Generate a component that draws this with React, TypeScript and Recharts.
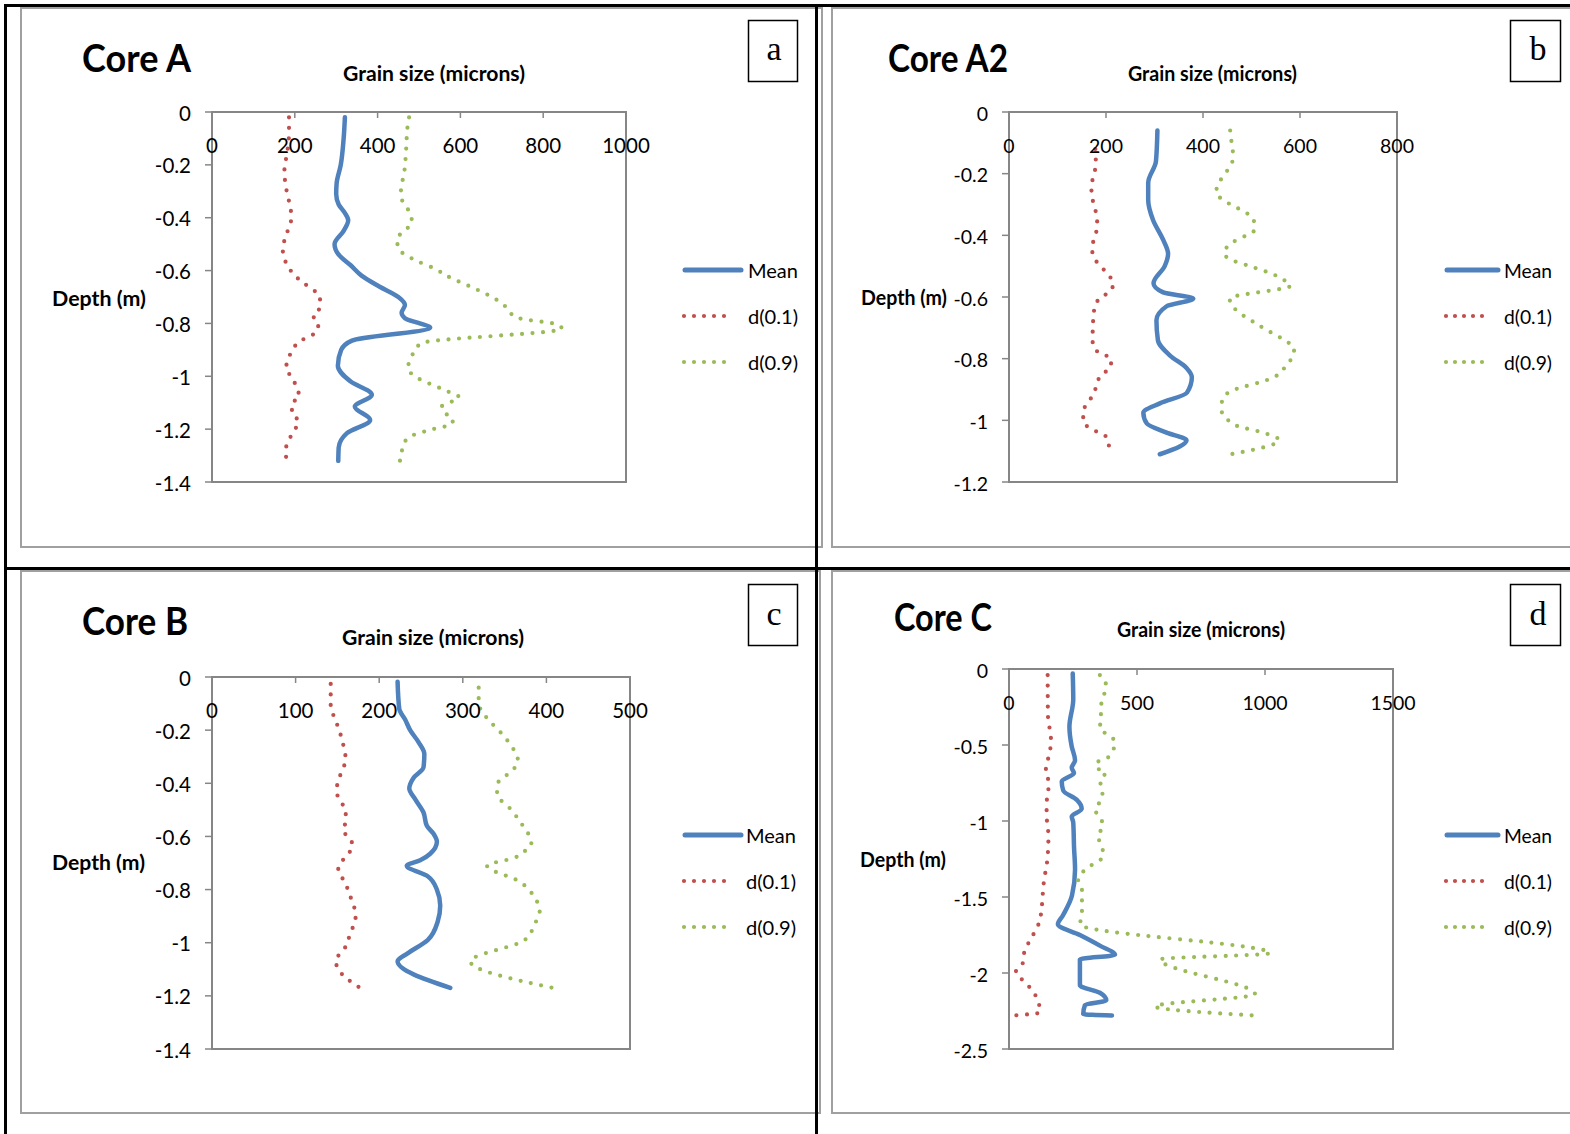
import React from 'react';
import { ScatterChart, Scatter, XAxis, YAxis, ReferenceArea } from 'recharts';

// ---------- palette & fonts ----------
const SANS = 'Lato, "Open Sans", sans-serif';
const SERIF = '"Liberation Serif", "DejaVu Serif", serif';
const AXIS_GREY = '#868686';
const FRAME_GREY = '#a0a0a0';
const MEAN_BLUE = '#4f81bd';
const D10_RED = '#c0504d';
const D90_GREEN = '#9bbb59';

// ---------- data: [depth (m), grain size (microns)] ----------
const coreAMean: [number, number][] = [
  [-0.02, 321], [-0.1, 318], [-0.2, 311], [-0.27, 301], [-0.31, 300], [-0.35, 306], [-0.38, 320],
  [-0.41, 329], [-0.45, 318], [-0.5, 296], [-0.54, 306], [-0.58, 335], [-0.62, 362], [-0.66, 404],
  [-0.7, 450], [-0.73, 466], [-0.76, 458], [-0.78, 466], [-0.8, 502], [-0.815, 527], [-0.865, 338],
  [-0.9, 312], [-0.96, 304], [-1.02, 335], [-1.07, 386], [-1.115, 345], [-1.165, 382], [-1.215, 326],
  [-1.27, 306], [-1.32, 305],
];
const coreAD10: [number, number][] = [
  [-0.02, 186], [-0.08, 186], [-0.15, 182], [-0.22, 175], [-0.28, 178], [-0.33, 185], [-0.4, 192],
  [-0.44, 185], [-0.48, 176], [-0.52, 171], [-0.56, 176], [-0.6, 190], [-0.64, 215], [-0.68, 250],
  [-0.7, 261], [-0.74, 261], [-0.77, 244], [-0.8, 257], [-0.83, 253], [-0.87, 210], [-0.9, 194],
  [-0.94, 184], [-0.97, 178], [-1.0, 191], [-1.04, 204], [-1.08, 211], [-1.1, 194], [-1.14, 193],
  [-1.17, 209], [-1.205, 199], [-1.24, 186], [-1.28, 178], [-1.32, 180],
];
const coreAD90: [number, number][] = [
  [-0.02, 476], [-0.06, 472], [-0.14, 469], [-0.23, 464], [-0.27, 459], [-0.31, 456], [-0.35, 464],
  [-0.38, 478], [-0.42, 483], [-0.45, 464], [-0.48, 447], [-0.515, 450], [-0.56, 490], [-0.59, 534],
  [-0.63, 580], [-0.66, 623], [-0.69, 664], [-0.73, 705], [-0.76, 720], [-0.78, 741], [-0.805, 836],
  [-0.82, 845], [-0.875, 505], [-0.93, 481], [-0.97, 473], [-1.0, 490], [-1.05, 558], [-1.08, 597],
  [-1.115, 555], [-1.14, 563], [-1.16, 582], [-1.18, 580], [-1.2, 534], [-1.22, 490], [-1.24, 469],
  [-1.28, 459], [-1.32, 454],
];

const coreA2Mean: [number, number][] = [
  [-0.06, 306], [-0.16, 303], [-0.23, 287], [-0.285, 287], [-0.35, 297], [-0.415, 318], [-0.46, 328],
  [-0.5, 321], [-0.555, 298], [-0.585, 318], [-0.605, 380], [-0.63, 325], [-0.675, 304], [-0.74, 307],
  [-0.79, 332], [-0.83, 366], [-0.86, 377], [-0.91, 367], [-0.945, 311], [-0.975, 277], [-1.01, 284],
  [-1.04, 325], [-1.065, 366], [-1.085, 352], [-1.11, 311],
];
const coreA2D10: [number, number][] = [
  [-0.12, 178], [-0.16, 179], [-0.2, 176], [-0.23, 171], [-0.265, 170], [-0.3, 175], [-0.34, 181],
  [-0.37, 182], [-0.405, 177], [-0.44, 171], [-0.475, 176], [-0.5, 189], [-0.525, 203], [-0.555, 215],
  [-0.585, 207], [-0.6, 189], [-0.63, 178], [-0.66, 174], [-0.7, 173], [-0.735, 172], [-0.77, 177],
  [-0.785, 193], [-0.8, 211], [-0.83, 209], [-0.85, 192], [-0.88, 181], [-0.91, 176], [-0.94, 164],
  [-0.97, 153], [-1.005, 153], [-1.025, 167], [-1.04, 185], [-1.055, 202], [-1.08, 206], [-1.11, 196],
];
const coreA2D90: [number, number][] = [
  [-0.06, 456], [-0.1, 459], [-0.14, 462], [-0.17, 459], [-0.2, 445], [-0.23, 433], [-0.26, 427],
  [-0.285, 441], [-0.3, 457], [-0.33, 492], [-0.35, 505], [-0.385, 505], [-0.4, 489], [-0.43, 454],
  [-0.46, 444], [-0.48, 459], [-0.5, 497], [-0.53, 550], [-0.545, 567], [-0.563, 581], [-0.605, 455],
  [-0.645, 470], [-0.68, 503], [-0.713, 538], [-0.743, 571], [-0.765, 588], [-0.795, 585], [-0.82, 571],
  [-0.848, 559], [-0.863, 542], [-0.91, 452], [-0.94, 439], [-0.975, 439], [-1.0, 452], [-1.018, 470],
  [-1.04, 524], [-1.064, 557], [-1.113, 447],
];

const coreBMean: [number, number][] = [
  [-0.018, 222], [-0.12, 224], [-0.16, 231], [-0.2, 237], [-0.245, 247], [-0.29, 254], [-0.34, 253],
  [-0.38, 241], [-0.42, 236], [-0.46, 243], [-0.51, 253], [-0.56, 257], [-0.59, 265], [-0.62, 269],
  [-0.665, 261], [-0.69, 249], [-0.71, 233], [-0.75, 258], [-0.8, 269], [-0.86, 273], [-0.92, 270],
  [-0.99, 258], [-1.04, 234], [-1.07, 222], [-1.17, 285],
];
const coreBD10: [number, number][] = [
  [-0.026, 142], [-0.07, 142], [-0.11, 142], [-0.15, 146], [-0.19, 151], [-0.23, 155], [-0.27, 158],
  [-0.31, 160], [-0.35, 156], [-0.39, 151], [-0.43, 149], [-0.47, 154], [-0.5, 160], [-0.54, 160],
  [-0.58, 157], [-0.61, 166], [-0.64, 168], [-0.675, 160], [-0.72, 151], [-0.78, 160], [-0.84, 167],
  [-0.895, 172], [-0.97, 165], [-1.03, 157], [-1.065, 148], [-1.1, 151], [-1.17, 177],
];
const coreBD90: [number, number][] = [
  [-0.04, 319], [-0.08, 319], [-0.12, 321], [-0.155, 329], [-0.215, 347], [-0.28, 362], [-0.315, 366],
  [-0.35, 360], [-0.4, 342], [-0.44, 341], [-0.5, 358], [-0.565, 373], [-0.6, 380], [-0.63, 382],
  [-0.66, 372], [-0.68, 362], [-0.71, 329], [-0.77, 368], [-0.83, 386], [-0.88, 392], [-0.93, 386],
  [-0.99, 374], [-1.07, 309], [-1.17, 408],
];

const coreCMean: [number, number][] = [
  [-0.03, 249], [-0.2, 251], [-0.38, 236], [-0.51, 245], [-0.6, 258], [-0.65, 245], [-0.685, 254],
  [-0.74, 206], [-0.8, 212], [-0.86, 264], [-0.92, 284], [-0.97, 245], [-1.01, 251], [-1.17, 254],
  [-1.32, 258], [-1.49, 246], [-1.62, 211], [-1.68, 191], [-1.75, 277], [-1.82, 355], [-1.88, 414],
  [-1.91, 277], [-2.08, 277], [-2.13, 355], [-2.18, 380], [-2.21, 297], [-2.27, 290], [-2.28, 402],
];
const coreCD10: [number, number][] = [
  [-0.04, 151], [-0.3, 152], [-0.47, 164], [-0.54, 160], [-0.61, 150], [-0.68, 143], [-0.745, 156],
  [-0.89, 147], [-0.96, 147], [-1.1, 154], [-1.25, 150], [-1.39, 137], [-1.65, 121], [-1.75, 94],
  [-1.85, 62], [-1.95, 51], [-1.99, 27], [-2.08, 74], [-2.18, 113], [-2.26, 121], [-2.28, 12],
];
const coreCD90: [number, number][] = [
  [-0.04, 355], [-0.094, 378], [-0.15, 375], [-0.2, 362], [-0.335, 358], [-0.395, 355], [-0.434, 388],
  [-0.478, 414], [-0.544, 404], [-0.594, 375], [-0.616, 340], [-0.653, 345], [-0.68, 378], [-0.735, 355],
  [-0.796, 366], [-0.866, 358], [-0.928, 336], [-0.98, 359], [-1.04, 366], [-1.097, 346], [-1.16, 362],
  [-1.23, 368], [-1.32, 297], [-1.39, 270], [-1.45, 285], [-1.62, 285], [-1.68, 277], [-1.87, 1020],
  [-1.91, 590], [-2.14, 961], [-2.22, 570], [-2.28, 961],
];

// ---------- axis ticks ----------
const grainTicksA = [0, 200, 400, 600, 800, 1000];
const grainTicksA2 = [0, 200, 400, 600, 800];
const grainTicksB = [0, 100, 200, 300, 400, 500];
const grainTicksC = [0, 500, 1000, 1500];
const depthTicks14 = [0, -0.2, -0.4, -0.6, -0.8, -1, -1.2, -1.4];
const depthTicks12 = [0, -0.2, -0.4, -0.6, -0.8, -1, -1.2];
const depthTicks25 = [0, -0.5, -1, -1.5, -2, -2.5];

const seriesNames = ['Mean', 'd(0.1)', 'd(0.9)'];

type Rect = { left: number; top: number; width: number; height: number };
type Plot = { left: number; top: number; right: number; bottom: number };
type Panel = {
  key: string;
  title: string;
  letter: string;
  box: Rect;
  plot: Plot;
  xMax: number;
  yMin: number;
  xTicks: number[];
  yTicks: number[];
  series: [number, number][][];
  tickFont: number;
  titleText: { x: number; y: number; w: number };
  grainText: { x: number; y: number; w: number };
  depthText: { x: number; y: number; w: number };
  letterBox: { x: number; y: number; w: number; h: number; tx: number; ty: number };
  legend: { lineX: number; lineEnd: number; textX: number; textW: number; rows: number[] };
};

const panels: Panel[] = [
  {
    key: 'A', title: 'Core A', letter: 'a',
    box: { left: 20, top: 7, width: 803, height: 541 },
    plot: { left: 212, top: 112, right: 626, bottom: 482 },
    xMax: 1000, yMin: -1.4, xTicks: grainTicksA, yTicks: depthTicks14,
    series: [coreAMean, coreAD10, coreAD90], tickFont: 20.5,
    titleText: { x: 82, y: 72, w: 109 },
    grainText: { x: 343, y: 81, w: 182 },
    depthText: { x: 52, y: 306, w: 94 },
    letterBox: { x: 748.5, y: 20.5, w: 49, h: 61, tx: 774, ty: 60 },
    legend: { lineX: 685, lineEnd: 741, textX: 748, textW: 50, rows: [270, 316, 362] },
  },
  {
    key: 'A2', title: 'Core A2', letter: 'b',
    box: { left: 831, top: 7, width: 739, height: 541 },
    plot: { left: 1009, top: 112, right: 1397, bottom: 482 },
    xMax: 800, yMin: -1.2, xTicks: grainTicksA2, yTicks: depthTicks12,
    series: [coreA2Mean, coreA2D10, coreA2D90], tickFont: 19.5,
    titleText: { x: 888, y: 72, w: 120 },
    grainText: { x: 1128, y: 81, w: 169 },
    depthText: { x: 861, y: 305, w: 86 },
    letterBox: { x: 1510.5, y: 20.5, w: 50, h: 61, tx: 1538, ty: 60 },
    legend: { lineX: 1447, lineEnd: 1498, textX: 1504, textW: 48, rows: [270, 316, 362] },
  },
  {
    key: 'B', title: 'Core B', letter: 'c',
    box: { left: 20, top: 570, width: 801, height: 544 },
    plot: { left: 212, top: 677, right: 630, bottom: 1049 },
    xMax: 500, yMin: -1.4, xTicks: grainTicksB, yTicks: depthTicks14,
    series: [coreBMean, coreBD10, coreBD90], tickFont: 20.5,
    titleText: { x: 82, y: 635, w: 106 },
    grainText: { x: 342, y: 645, w: 182 },
    depthText: { x: 52, y: 870, w: 93 },
    letterBox: { x: 748.5, y: 584.5, w: 49, h: 61, tx: 774, ty: 625 },
    legend: { lineX: 685, lineEnd: 741, textX: 746, textW: 50, rows: [835, 881, 927] },
  },
  {
    key: 'C', title: 'Core C', letter: 'd',
    box: { left: 831, top: 570, width: 739, height: 544 },
    plot: { left: 1009, top: 669, right: 1393, bottom: 1049 },
    xMax: 1500, yMin: -2.5, xTicks: grainTicksC, yTicks: depthTicks25,
    series: [coreCMean, coreCD10, coreCD90], tickFont: 19.5,
    titleText: { x: 894, y: 631, w: 98 },
    grainText: { x: 1117, y: 637, w: 168 },
    depthText: { x: 860, y: 867, w: 86 },
    letterBox: { x: 1510.5, y: 584.5, w: 50, h: 61, tx: 1538, ty: 625 },
    legend: { lineX: 1447, lineEnd: 1498, textX: 1504, textW: 48, rows: [835, 881, 927] },
  },
];

// ---------- series styling ----------
const seriesStyle = [
  { color: MEAN_BLUE, strokeWidth: 4.5, dash: undefined as string | undefined },
  { color: D10_RED, strokeWidth: 4.2, dash: '0 10.5' },
  { color: D90_GREEN, strokeWidth: 4.2, dash: '0 10.5' },
];

const NoMarker = () => <g />;

// Grain-size ticks sit on the top axis: short marks pointing into the plot, labels below them.
const GrainTick = (props: any) => {
  const { x, payload, plotTop, fontSize } = props;
  return (
    <g>
      <line x1={x} x2={x} y1={plotTop} y2={plotTop + 6} stroke={AXIS_GREY} strokeWidth={1.5} />
      <text x={x} y={plotTop + 41} textAnchor="middle" fontFamily={SANS} fontSize={fontSize} fill="#000">
        {payload.value}
      </text>
    </g>
  );
};

const DepthTick = (props: any) => {
  const { x, y, payload, fontSize } = props;
  return (
    <text x={x} y={y + 8.5} textAnchor="end" fontFamily={SANS} fontSize={fontSize} fill="#000">
      {payload.value}
    </text>
  );
};

function CoreChart({ p }: { p: Panel }) {
  // axes take 1px each (a zero-size axis is not drawn), so the margins give back that pixel
  const margin = {
    top: p.plot.top - p.box.top - 1,
    left: p.plot.left - p.box.left - 1,
    right: p.box.left + p.box.width - p.plot.right,
    bottom: p.box.top + p.box.height - p.plot.bottom,
  };
  const plotTop = p.plot.top - p.box.top;
  return (
    <div style={{ position: 'absolute', left: p.box.left, top: p.box.top }}>
      <ScatterChart width={p.box.width} height={p.box.height} margin={margin}>
        <XAxis
          type="number"
          dataKey="size"
          orientation="top"
          domain={[0, p.xMax]}
          ticks={p.xTicks}
          interval={0}
          height={1}
          axisLine={{ stroke: AXIS_GREY, strokeWidth: 2 }}
          tickLine={false}
          tick={<GrainTick plotTop={plotTop} fontSize={p.tickFont} />}
        />
        <YAxis
          type="number"
          dataKey="depth"
          domain={[p.yMin, 0]}
          ticks={p.yTicks}
          interval={0}
          width={1}
          tickSize={7}
          tickMargin={14}
          axisLine={{ stroke: AXIS_GREY, strokeWidth: 2 }}
          tickLine={{ stroke: AXIS_GREY, strokeWidth: 1.5 }}
          tick={<DepthTick fontSize={p.tickFont} />}
        />
        <ReferenceArea x1={0} x2={p.xMax} y1={p.yMin} y2={0} fill="none" stroke={AXIS_GREY} strokeWidth={2} />
        {p.series.map((pts, i) => (
          <Scatter
            key={seriesNames[i]}
            name={seriesNames[i]}
            data={pts.map(([depth, size]) => ({ depth, size }))}
            fill={seriesStyle[i].color}
            shape={NoMarker}
            line={{
              stroke: seriesStyle[i].color,
              strokeWidth: seriesStyle[i].strokeWidth,
              strokeDasharray: seriesStyle[i].dash,
              strokeLinecap: 'round',
              strokeLinejoin: 'round',
            }}
            lineType="joint"
            lineJointType="monotoneY"
            isAnimationActive={false}
          />
        ))}
      </ScatterChart>
    </div>
  );
}

function PanelDecor({ p }: { p: Panel }) {
  const lb = p.letterBox;
  const lg = p.legend;
  return (
    <g>
      <text x={p.titleText.x} y={p.titleText.y} fontFamily={SANS} fontWeight={700} fontSize={39}
        textLength={p.titleText.w} lengthAdjust="spacingAndGlyphs" fill="#000">{p.title}</text>
      <text x={p.grainText.x} y={p.grainText.y} fontFamily={SANS} fontWeight={700} fontSize={21}
        textLength={p.grainText.w} lengthAdjust="spacingAndGlyphs" fill="#000">Grain size (microns)</text>
      <text x={p.depthText.x} y={p.depthText.y} fontFamily={SANS} fontWeight={700} fontSize={20}
        textLength={p.depthText.w} lengthAdjust="spacingAndGlyphs" fill="#000">Depth (m)</text>
      <rect x={lb.x} y={lb.y} width={lb.w} height={lb.h} fill="#fff" stroke="#000" strokeWidth={1.5} />
      <text x={lb.tx} y={lb.ty} textAnchor="middle" fontFamily={SERIF} fontSize={34} fill="#000">{p.letter}</text>
      {seriesNames.map((name, i) => (
        <g key={name}>
          {i === 0 ? (
            <line x1={lg.lineX} x2={lg.lineEnd} y1={lg.rows[i]} y2={lg.rows[i]} stroke={seriesStyle[i].color}
              strokeWidth={5} strokeLinecap="round" />
          ) : (
            <line x1={lg.lineX - 1} x2={lg.lineEnd - 7} y1={lg.rows[i]} y2={lg.rows[i]} stroke={seriesStyle[i].color}
              strokeWidth={4.2} strokeLinecap="round" strokeDasharray={`0 ${(lg.lineEnd - 7 - lg.lineX + 1) / 5}`} />
          )}
          <text x={lg.textX} y={lg.rows[i] + 7.5} fontFamily={SANS} fontSize={20} textLength={lg.textW}
            lengthAdjust="spacingAndGlyphs" fill="#000">{name}</text>
        </g>
      ))}
    </g>
  );
}

export default function App() {
  return (
    <div style={{ position: 'absolute', left: 0, top: 0, width: 1570, height: 1134, background: '#fff', overflow: 'hidden' }}>
      <svg width={1570} height={1134} style={{ position: 'absolute', left: 0, top: 0 }}>
        {/* panel frames */}
        <rect x={21} y={8} width={801} height={539} fill="none" stroke={FRAME_GREY} strokeWidth={2} />
        <rect x={832} y={8} width={740} height={539} fill="none" stroke={FRAME_GREY} strokeWidth={2} />
        <rect x={21} y={571} width={799} height={542} fill="none" stroke={FRAME_GREY} strokeWidth={2} />
        <rect x={832} y={571} width={740} height={542} fill="none" stroke={FRAME_GREY} strokeWidth={2} />
        {/* figure grid lines */}
        <rect x={4} y={4} width={1566} height={3} fill="#000" />
        <rect x={4} y={567} width={1566} height={3} fill="#000" />
        <rect x={4} y={4} width={3} height={1130} fill="#000" />
        <rect x={815} y={4} width={3} height={1130} fill="#000" />
        {panels.map((p) => (
          <PanelDecor key={p.key} p={p} />
        ))}
      </svg>
      {panels.map((p) => (
        <CoreChart key={p.key} p={p} />
      ))}
    </div>
  );
}
